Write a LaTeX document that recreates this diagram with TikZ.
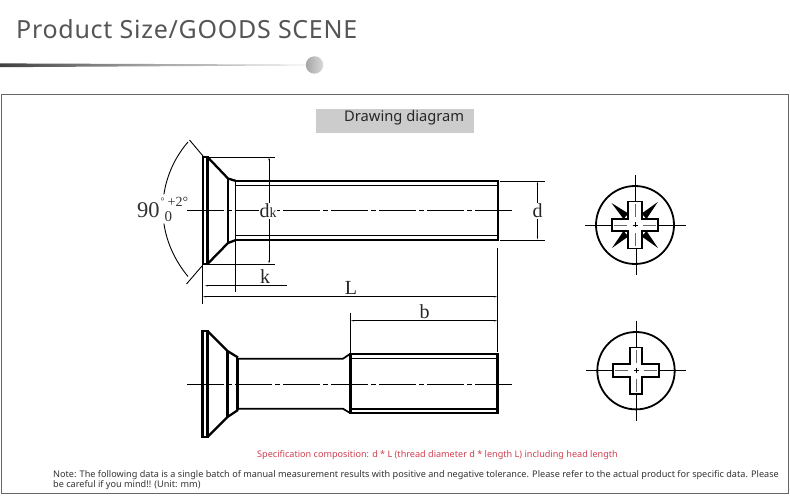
\documentclass[tikz,border=0pt]{standalone}
\usepackage{fontspec}
\setmainfont{Noto Sans}
\usetikzlibrary{arrows.meta}
\definecolor{titlegray}{HTML}{555555}
\definecolor{framegray}{HTML}{666666}
\definecolor{boxgray}{HTML}{CCCCCC}
\definecolor{specred}{HTML}{CF3F4F}
\definecolor{notegray}{HTML}{333333}
\newfontfamily\lmserif{Liberation Serif}
\tikzset{
  x=1pt,y=-1pt,
  outline/.style={line width=2.3pt,black,line join=miter},
  thinline/.style={line width=1.1pt,black},
  dimline/.style={line width=.9pt,black},
  centerline/.style={line width=1pt,black,dash pattern=on 37pt off 3pt on 5pt off 3pt},
  dimarrow/.style={dimline,{Stealth[length=3pt,width=1.4pt]}-{Stealth[length=3pt,width=1.4pt]}},
  dimlabel/.style={font=\lmserif\fontsize{20}{20}\selectfont,inner sep=.5pt,text=black!85},
  headcircle/.style={line width=1.8pt,black},
  crosshair/.style={line width=.9pt,black},
  slot/.style={line width=1.9pt,black,fill=white},
  spike/.style={fill=black,draw=none},
}
\begin{document}
\begin{tikzpicture}
\useasboundingbox (0,0) rectangle (790,502);
\fill[white] (0,0) rectangle (790,502);

% heading
\node[anchor=base west,inner sep=0pt,text=titlegray,font=\fontsize{25}{25}\selectfont\addfontfeatures{LetterSpace=2.9}] (title) at (16,39) {Product Size/GOODS SCENE};
\shade[left color=black!75,right color=black!12,middle color=black!35] (0,63.4) -- (305,64.6) -- (305,65.4) -- (0,67.2) -- cycle;
\shade[left color=black!35,right color=black!15,draw=none] (314.5,65) circle (8.7);

% frame
\draw[line width=1pt,framegray] (1.5,94.5) rectangle (788.5,493.5);
\fill[boxgray] (316,109) rectangle (473.5,133);
\node[anchor=base west,inner sep=0pt,font=\fontsize{14.7}{15}\selectfont,text=black!85] (boxlabel) at (344,122) {Drawing diagram};

% ---- top screw side view
\coordinate (hTL) at (203,157);
\coordinate (hBL) at (203,264);
\coordinate (hTR) at (207.5,157);
\coordinate (hBR) at (207.5,264);
\draw[centerline] (187,210.5) -- (514,210.5);
\draw[outline] (hTL) -- (hTR) -- (hBR) -- (hBL) -- cycle;
\draw[outline] (hTR) -- (228,178.5) -- (236,181) ;
\draw[outline] (hBR) -- (228,243) -- (236,240);
\draw[outline] (228,178.5) -- (228,243);
\draw[line width=1.3pt] (235.5,181) -- (235.5,240);
\draw[outline] (236,181) -- (498,181) -- (498,240) -- (236,240);
\draw[thinline] (236,185.5) -- (498,185.5);
\draw[thinline] (236,235.5) -- (498,235.5);

% dk
\draw[dimline] (208,157) -- (275,157);
\draw[dimline] (208,264) -- (275,264);
\draw[dimarrow] (269,157.5) -- (269,263.5);
\node[dimlabel,fill=white] (dk) at (268,211) {d\raisebox{0pt}{\fontsize{14}{14}\selectfont k}};

% d
\coordinate (dT) at (545,181);
\coordinate (dB) at (545,240);
\draw[dimline] (500,181) -- (dT);
\draw[dimline] (500,240) -- (dB);
\draw[dimarrow] (537.5,181.5) -- (537.5,239.5);
\node[dimlabel,fill=white] (dlabel) at (537.5,211) {d};

% L, k
\draw[dimline] (202.5,265) -- (202.5,304);
\draw[dimline] (497.7,248) -- (497.7,352);
\draw[dimarrow] (203,296.7) -- (497.2,296.7);
\node[dimlabel] (Llabel) at (351,288) {L};
\draw[dimline] (235.5,241) -- (235.5,292);
\draw[dimline,{Stealth[length=3pt,width=1.4pt]}-] (205,285.7) -- (235,285.7);
\draw[dimline] (287,285.7) -- (236,285.7);
\node[dimlabel] (klabel) at (265,277) {k};

% angle
\draw[dimline] (203,156) -- (189.5,140);
\draw[dimline] (202,266) -- (186.5,284);
\draw[dimline] (163.9,194.4) .. controls (166.8,175) and (175.2,156.8) .. (188,142);
\draw[dimline] (163.9,223.6) .. controls (166.8,243) and (175.2,261) .. (188,276.5);
\node[anchor=base west,inner sep=0pt,font=\lmserif\fontsize{22.5}{22.5}\selectfont,text=black!80] (angle) at (137,217.5) {90};
\node[anchor=base west,inner sep=0pt,font=\lmserif\fontsize{10}{10}\selectfont,text=black!80] (angledeg) at (160.5,205) {°};
\node[anchor=base west,inner sep=0pt,font=\lmserif\fontsize{14}{14}\selectfont,text=black!80] (angleup) at (167.5,207) {+2°};
\node[anchor=base west,inner sep=0pt,font=\lmserif\fontsize{15}{15}\selectfont,text=black!80] (anglelow) at (164.5,221.5) {0};

% ---- bottom screw side view
\draw[centerline] (187,384.3) -- (514,384.3);
\draw[outline] (202.5,331) -- (207.5,331) -- (207.5,437) -- (202.5,437) -- cycle;
\draw[outline] (207.5,331) -- (227.5,351) -- (238,357.5);
\draw[outline] (207.5,437) -- (227.5,417) -- (238,410);
\draw[outline] (227.5,351) -- (227.5,417);
\draw[outline] (237.5,358) -- (237.5,410);
\draw[line width=1.7pt] (238,358.7) -- (343,358.7) -- (350,354);
\draw[line width=1.7pt] (238,408.7) -- (343,408.7) -- (350,413);
\draw[outline] (350.5,354) -- (497.5,354) -- (497.5,412.7) -- (350.5,412.7) -- cycle;
\draw[thinline] (350.5,358.3) -- (497.5,358.3);
\draw[thinline] (350.5,409) -- (497.5,409);

% b
\draw[dimline] (350.5,313) -- (350.5,353);
\draw[dimarrow] (351,320.7) -- (497.2,320.7);
\node[dimlabel] (blabel) at (424.5,312) {b};

% ---- top head view
\begin{scope}[shift={(635,225)}]
  \coordinate (tc) at (0,0);
  \draw[headcircle] (tc) circle (39);
  \fill[spike] (6.7,-11.5) -- (11.5,-6) -- (22.8,-23) -- cycle;
  \fill[spike] (-6.7,-11.5) -- (-11.5,-6) -- (-23.5,-22) -- cycle;
  \fill[spike] (6.7,11.5) -- (11.5,6) -- (23,23) -- cycle;
  \fill[spike] (-6.7,11.5) -- (-11.5,6) -- (-23,23) -- cycle;
  \draw[slot] (-6.7,-23.5) -- (6.7,-23.5) -- (6.7,-6) -- (23.3,-6) -- (23.3,6) -- (6.7,6) -- (6.7,23.5) -- (-6.7,23.5) -- (-6.7,6) -- (-23.3,6) -- (-23.3,-6) -- (-6.7,-6) -- cycle;
  \draw[crosshair] (-50,0) -- (-24,0);
  \draw[crosshair] (24,0) -- (51,0);
  \draw[crosshair] (0,-50) -- (0,-24);
  \draw[crosshair] (1,24) -- (1,50);
  \draw[line width=.7pt,black!60] (-21,0) -- (-8,0) (8,0) -- (21,0) (0,-21) -- (0,-8) (0,8) -- (0,21);
  \draw[line width=.8pt] (-2.5,0) -- (2.5,0) (0,-2.5) -- (0,2.5);
\end{scope}

% ---- bottom head view
\begin{scope}[shift={(636,370.7)}]
  \coordinate (bc) at (0,0);
  \draw[headcircle] (bc) circle (38.7);
  \draw[slot] (-6.2,-23.2) -- (6.2,-23.2) -- (6.2,-6.3) -- (23.3,-6.3) -- (23.3,6.3) -- (6.2,6.3) -- (6.2,23.2) -- (-6.2,23.2) -- (-6.2,6.3) -- (-23.3,6.3) -- (-23.3,-6.3) -- (-6.2,-6.3) -- cycle;
  \draw[crosshair] (-50,0) -- (-24,0);
  \draw[crosshair] (24,0) -- (50,0);
  \draw[crosshair] (0,-50) -- (0,-24);
  \draw[crosshair] (0,24) -- (0,50);
  \draw[line width=.7pt,black!60] (-21,0) -- (-8,0) (8,0) -- (21,0) (0,-21) -- (0,-8) (0,8) -- (0,21);
  \draw[line width=.8pt] (-2.5,0) -- (2.5,0) (0,-2.5) -- (0,2.5);
\end{scope}

% ---- captions
\node[anchor=base west,inner sep=0pt,text=specred,font=\fontsize{9.1}{10}\selectfont] (spec) at (257,457.5) {Specification composition: d * L (thread diameter d * length L) including head length};
\node[anchor=base west,inner sep=0pt,text=notegray,font=\fontsize{9.13}{10}\selectfont] (note1) at (53,477.5) {Note: The following data is a single batch of manual measurement results with positive and negative tolerance. Please refer to the actual product for specific data. Please};
\node[anchor=base west,inner sep=0pt,text=notegray,font=\fontsize{9.13}{10}\selectfont] (note2) at (53,487.5) {be careful if you mind!! (Unit: mm)};
\end{tikzpicture}
\end{document}
